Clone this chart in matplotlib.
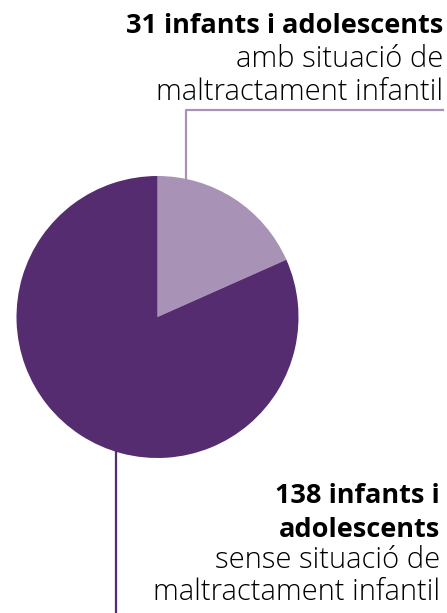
import matplotlib.pyplot as plt

# dades
values = [31, 138]
colors = ["#a893b7", "#552c6f"]
top_lines = [("31 infants i adolescents", "bold"),
             ("amb situació de", "light"),
             ("maltractament infantil", "light")]
bottom_lines = [("138 infants i", "bold"),
                ("adolescents", "bold"),
                ("sense situació de", "light"),
                ("maltractament infantil", "light")]

W, H = 447, 613
fig = plt.figure(figsize=(W / 100, H / 100), dpi=100)
ax = fig.add_axes([0, 0, 1, 1])

cx, cy, r = 157.5, H - 317, 141
ax.pie(values, colors=colors, startangle=90, counterclock=False,
       center=(cx, cy), radius=r, frame=True,
       wedgeprops=dict(linewidth=0))
ax.set_xlim(0, W)
ax.set_ylim(0, H)
ax.set_aspect("equal")
ax.axis("off")

# línies guia
ax.plot([186, 186, 443], [H - 180, H - 110, H - 110], color=colors[0], lw=1.6, zorder=0)
ax.plot([116, 116], [H - 440, 0], color=colors[1], lw=1.6, zorder=0)

font = "Open Sans"
for (txt, w), y in zip(top_lines, [33, 67, 100]):
    ax.text(443, H - y, txt, ha="right", va="baseline",
            fontsize=19.5 if w == "bold" else 21, fontweight=w, family=font)
for (txt, w), y in zip(bottom_lines, [503, 537, 568, 600]):
    ax.text(440, H - y, txt, ha="right", va="baseline",
            fontsize=19.5 if w == "bold" else 21, fontweight=w, family=font)

fig.savefig("out.png", dpi=100)
